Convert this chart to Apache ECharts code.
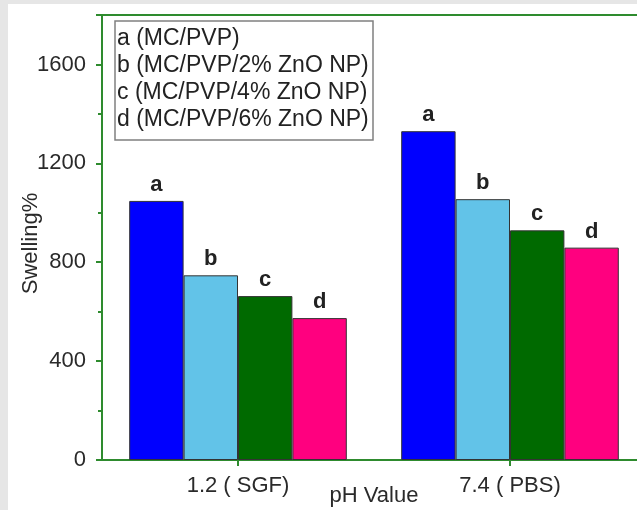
<!DOCTYPE html>
<html>
<head>
<meta charset="utf-8">
<script src="https://cdn.jsdelivr.net/npm/echarts@6/dist/echarts.min.js"></script>
<style>
html,body{margin:0;padding:0;background:#e6e6e6;}
#chart{width:637px;height:510px;}
</style>
</head>
<body>
<div id="chart"></div>
<script>
const categories = ['1.2 ( SGF)', '7.4 ( PBS)'];
const seriesNames = ['a (MC/PVP)', 'b (MC/PVP/2% ZnO NP)', 'c (MC/PVP/4% ZnO NP)', 'd (MC/PVP/6% ZnO NP)'];
const barLetters = ['a', 'b', 'c', 'd'];
const valuesA = [1048, 1330];
const valuesB = [747, 1055];
const valuesC = [663, 929];
const valuesD = [574, 859];
const yTickLabels = [0, 400, 800, 1200, 1600];
const seriesValues = [valuesA, valuesB, valuesC, valuesD];
const colors = ['#0000ff', '#62c3e8', '#006a00', '#ff007f'];

const FONT = "'Liberation Sans', Arial, sans-serif";
const GREEN = '#2e8b2e';

const chart = echarts.init(document.getElementById('chart'), null, {renderer: 'canvas'});
const option = {
  backgroundColor: '#e6e6e6',
  animation: false,
  graphic: [
    {type: 'rect', shape: {x: 8, y: 4, width: 629, height: 506}, style: {fill: '#ffffff'}, z: -10, silent: true},
    {type: 'rect', shape: {x: 115, y: 21, width: 258, height: 119}, style: {fill: '#ffffff', stroke: '#808080', lineWidth: 1.5}, z: 5, silent: true}
  ],
  legend: {
    show: true,
    orient: 'vertical',
    left: 112,
    top: 27,
    padding: 0,
    icon: 'none',
    itemWidth: 0,
    itemHeight: 10,
    itemGap: 4,
    z: 6,
    selectedMode: false,
    data: seriesNames,
    textStyle: {fontFamily: FONT, fontSize: 23, color: '#222', lineHeight: 23}
  },
  grid: {
    left: 102, top: 15, width: 544, height: 445,
    outerBoundsMode: 'none',
    containLabel: false,
    show: true, borderColor: GREEN, borderWidth: 2, backgroundColor: 'transparent'
  },
  xAxis: {
    type: 'category',
    data: categories,
    name: 'pH Value',
    nameLocation: 'middle',
    nameGap: 25,
    nameMoveOverlap: false,
    nameTextStyle: {fontFamily: FONT, fontSize: 22, color: '#2a2a2a'},
    axisLine: {lineStyle: {color: GREEN, width: 2}},
    axisTick: {show: true, alignWithLabel: true, length: 6, lineStyle: {color: GREEN, width: 2}},
    axisLabel: {fontFamily: FONT, fontSize: 22, color: '#2a2a2a', margin: 15},
    splitLine: {show: false}
  },
  yAxis: {
    type: 'value',
    min: 0, max: 1800, interval: 400,
    name: 'Swelling%',
    nameLocation: 'middle',
    nameRotate: 90,
    nameGap: 60,
    nameMoveOverlap: false,
    nameTextStyle: {fontFamily: FONT, fontSize: 22, color: '#2a2a2a', padding: [0, 12, 0, 0]},
    axisLine: {show: true, lineStyle: {color: GREEN, width: 2}},
    axisTick: {show: true, length: 6, lineStyle: {color: GREEN, width: 2}},
    minorTick: {show: true, splitNumber: 2, length: 4, lineStyle: {color: GREEN, width: 2}},
    axisLabel: {
      fontFamily: FONT, fontSize: 22, color: '#2a2a2a', margin: 16,
      formatter: v => (yTickLabels.indexOf(v) >= 0 ? String(v) : '')
    },
    splitLine: {show: false},
    minorSplitLine: {show: false}
  },
  series: seriesValues.map((vals, i) => ({
    name: seriesNames[i],
    type: 'bar',
    data: vals,
    barGap: '0%',
    barCategoryGap: '20%',
    itemStyle: {color: colors[i], borderColor: '#333', borderWidth: 1},
    label: {
      show: true, position: 'top', distance: 5,
      formatter: () => barLetters[i],
      fontFamily: FONT, fontSize: 22, fontWeight: 'bold', color: '#222'
    }
  }))
};
chart.setOption(option);
</script>
</body>
</html>
